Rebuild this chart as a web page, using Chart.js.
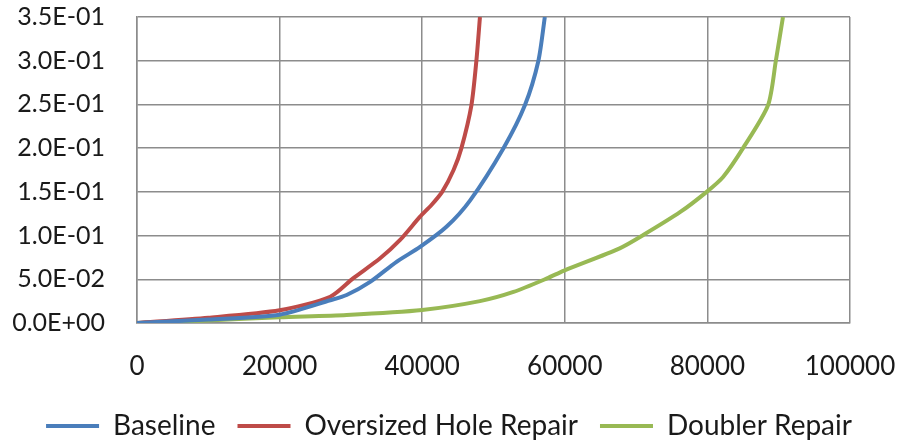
<!DOCTYPE html>
<html>
<head>
<meta charset="utf-8">
<script src="https://cdn.jsdelivr.net/npm/chart.js@4/dist/chart.umd.min.js"></script>
<style>
  body { margin: 0; background: #fff; }
  #wrap { width: 899px; height: 440px; position: relative; }
</style>
</head>
<body>
<div id="wrap"><canvas id="crackChart"></canvas></div>
<script>
// cycles vs. crack growth for each repair option
const seriesNames = ['Baseline', 'Oversized Hole Repair', 'Doubler Repair'];
const seriesColors = ['#4A7EBB', '#BE4B48', '#98B954'];

const baselineX = [0, 10000, 20000, 27100, 29400, 32700, 36400, 39700, 43400, 46700, 51400, 54400, 56300, 57200];
const baselineY = [0, 0.004, 0.0095, 0.026, 0.032, 0.047, 0.070, 0.087, 0.110, 0.140, 0.200, 0.249, 0.300, 0.350];

const oversizedX = [0, 10000, 20000, 27100, 30300, 34100, 36900, 39700, 41300, 42800, 44400, 45500, 46900, 47600, 48100];
const oversizedY = [0, 0.006, 0.0145, 0.030, 0.051, 0.074, 0.095, 0.1216, 0.135, 0.150, 0.175, 0.200, 0.249, 0.300, 0.350];

const doublerX = [0, 10000, 20000, 29400, 40000, 48100, 52800, 57500, 59900, 67700, 71000, 76200, 79900, 82200, 85000, 88500, 89600, 90600];
const doublerY = [0, 0.003, 0.0065, 0.0092, 0.0149, 0.025, 0.0355, 0.051, 0.060, 0.0854, 0.1006, 0.127, 0.150, 0.167, 0.200, 0.249, 0.300, 0.350];

const xTicks = [0, 20000, 40000, 60000, 80000, 100000];
const yMax = 0.35;

function toPoints(xs, ys) {
    return xs.map((x, i) => ({ x: x, y: ys[i] }));
}

// Excel style scientific label, e.g. 5.0E-02
function sciLabel(v) {
    if (Math.abs(v) < 1e-12) return '0.0E+00';
    const parts = v.toExponential(1).split('e');
    const exp = parseInt(parts[1], 10);
    const sign = exp < 0 ? '-' : '+';
    return parts[0] + 'E' + sign + String(Math.abs(exp)).padStart(2, '0');
}

const allX = [baselineX, oversizedX, doublerX];
const allY = [baselineY, oversizedY, doublerY];

const datasets = seriesNames.map((name, i) => ({
    label: name,
    data: toPoints(allX[i], allY[i]),
    borderColor: seriesColors[i],
    backgroundColor: seriesColors[i],
    borderWidth: 4,
    pointRadius: 0,
    tension: 0.25,
    fill: false
}));

const fontFamily = "Lato, 'DejaVu Sans', sans-serif";
const textColor = '#1a1a1a';
const gridColor = '#8c8c8c';

// fixed legend band under the x axis labels, nudged a little right and down
const legendHeight = 55;
const legendShiftX = 24;
const legendShiftY = 5;
const legendBand = {
    id: 'legendBand',
    beforeInit(chart) {
        const legend = chart.legend;
        const fit = legend.fit;
        legend.fit = function () {
            fit.call(this);
            this.height = legendHeight;
        };
    },
    afterLayout(chart) {
        const legend = chart.legend;
        legend.left += legendShiftX;
        legend.right += legendShiftX;
        legend.top += legendShiftY;
        legend.bottom += legendShiftY;
    }
};

// keep label overflow from pushing the plot area around
function noOverflow(axis) {
    axis.paddingTop = 0;
    axis.paddingBottom = 0;
    axis.paddingLeft = 0;
    axis.paddingRight = 0;
}

const chart = new Chart(document.getElementById('crackChart'), {
    type: 'line',
    data: { datasets: datasets },
    plugins: [legendBand],
    options: {
        responsive: true,
        maintainAspectRatio: false,
        animation: false,
        layout: { padding: { top: 17, right: 49, left: 0, bottom: 0 } },
        plugins: {
            tooltip: { enabled: false },
            legend: {
                position: 'bottom',
                labels: {
                    usePointStyle: true,
                    pointStyle: 'line',
                    pointStyleWidth: 53,
                    padding: 22,
                    color: textColor,
                    font: { family: fontFamily, size: 28 }
                }
            }
        },
        scales: {
            x: {
                type: 'linear',
                min: 0,
                max: 100000,
                afterBuildTicks: (axis) => { axis.ticks = xTicks.map(v => ({ value: v })); },
                afterFit: (axis) => { axis.height = 62; noOverflow(axis); },
                ticks: {
                    padding: 28,
                    color: textColor,
                    maxRotation: 0,
                    font: { family: fontFamily, size: 26 },
                    callback: (v) => String(v)
                },
                grid: { color: gridColor, lineWidth: 1.5, drawTicks: false },
                border: { color: gridColor, width: 1.5 }
            },
            y: {
                min: 0,
                max: yMax,
                afterFit: (axis) => { axis.width = 137; noOverflow(axis); },
                ticks: {
                    stepSize: 0.05,
                    padding: 32,
                    color: textColor,
                    font: { family: fontFamily, size: 25 },
                    callback: (v) => sciLabel(v)
                },
                grid: { color: gridColor, lineWidth: 1.5, drawTicks: false },
                border: { color: gridColor, width: 1.5 }
            }
        }
    }
});
</script>
</body>
</html>
